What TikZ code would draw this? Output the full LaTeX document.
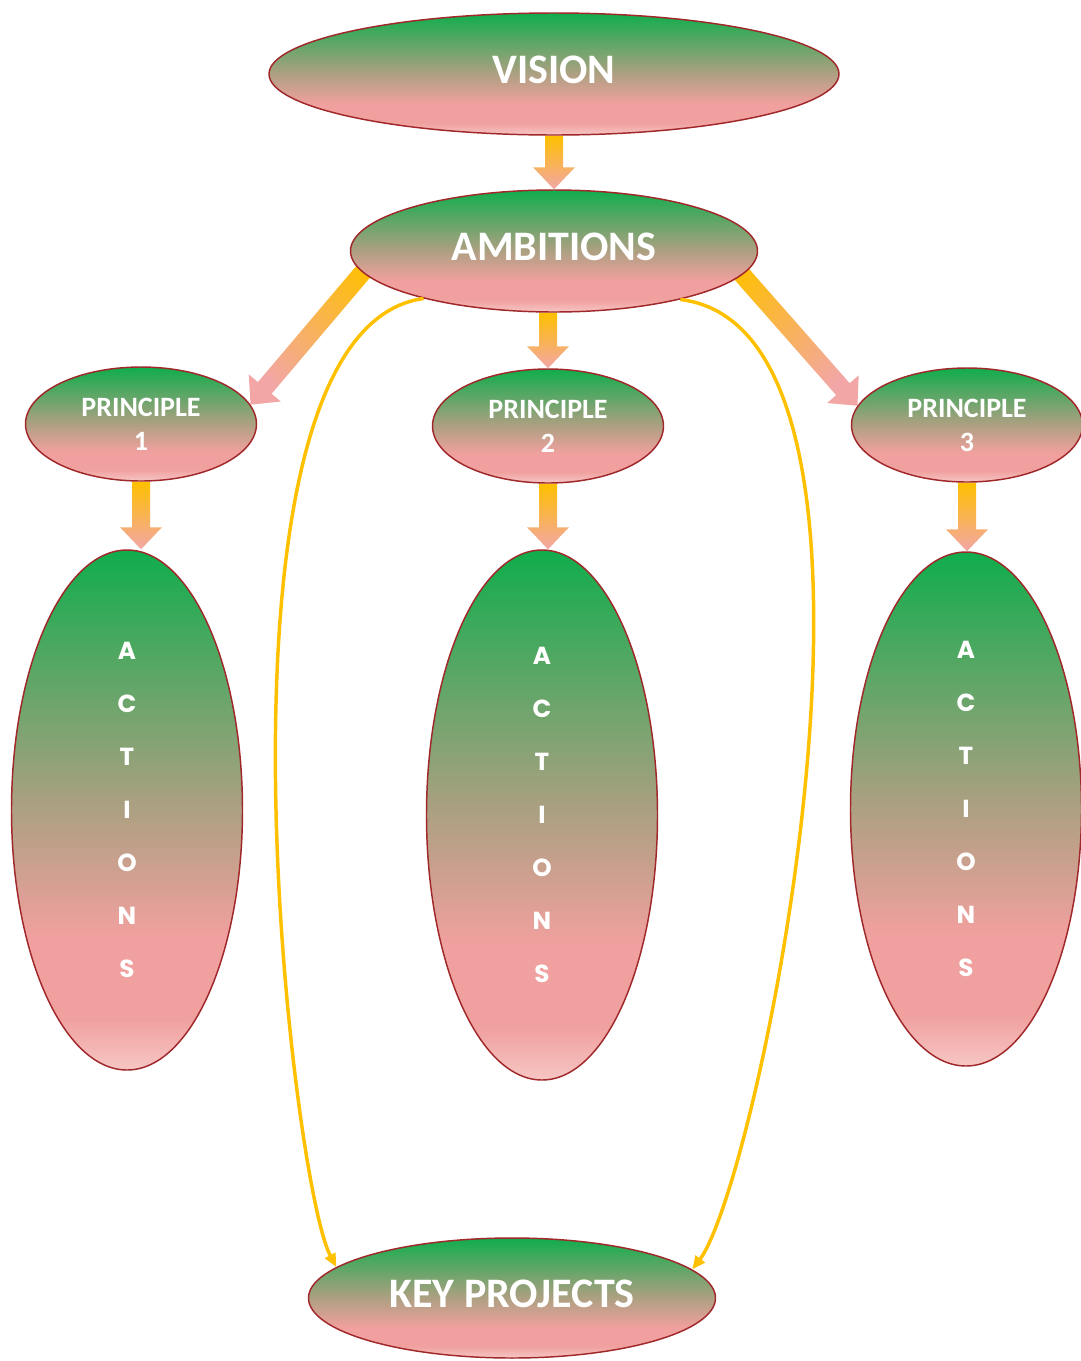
\documentclass[tikz,border=0pt]{standalone}
\usepackage{fontspec}
\setmainfont{Carlito}
\newfontfamily\gothicfont{Poppins}
\usetikzlibrary{shapes.geometric,arrows.meta,calc,backgrounds}

\definecolor{greentop}{RGB}{16,173,76}
\definecolor{midtone}{RGB}{168,160,128}
\definecolor{pinkmd}{RGB}{240,160,158}
\definecolor{pinklt}{RGB}{246,198,196}
\definecolor{rimred}{RGB}{160,40,42}
\definecolor{arrtop}{RGB}{255,192,0}
\definecolor{arrbot}{RGB}{242,166,166}
\definecolor{linkyellow}{RGB}{255,192,0}

\pgfdeclareverticalshading{ovalfill}{100bp}{color(0bp)=(pinklt); color(25bp)=(pinklt); color(30bp)=(pinkmd); color(38bp)=(pinkmd); color(51bp)=(midtone); color(75bp)=(greentop); color(100bp)=(greentop)}

\tikzset{every picture/.style={line width=0.75pt}}
\tikzset{
	oval/.style={ellipse, draw=rimred, line width=1.1pt, shade, shading=ovalfill, inner sep=0pt, text=white},
	bigoval/.style={oval, minimum height=91.5pt, text depth=7pt, font=\fontsize{31.5}{36}\selectfont\bfseries},
	princoval/.style={oval, minimum width=173.25pt, minimum height=85.5pt, align=center, font=\fontsize{21}{25.5}\selectfont\bfseries},
	actoval/.style={oval, minimum width=173.25pt, align=center, font=\gothicfont\fontsize{18.5}{39.75}\selectfont\bfseries},
	linkcurve/.style={draw=linkyellow, line width=2.6pt, -{Triangle[length=10pt,width=8.5pt]}},
}

% block arrow: #1 shading angle, #2 tail, #3 tip
\newcommand\blockarrow[3]{%
	\coordinate (hb) at ($(#3)!16.5pt!(#2)$);
	\path[top color=arrtop, bottom color=arrbot, shading angle=#1]
	($(#2)!6.75pt!90:(#3)$) -- ($(hb)!6.75pt!90:(#3)$) -- ($(hb)!15.75pt!90:(#3)$) -- (#3)
	-- ($(hb)!15.75pt!-90:(#3)$) -- ($(hb)!6.75pt!-90:(#3)$) -- ($(#2)!6.75pt!-90:(#3)$) -- cycle;
}

\begin{document}
\begin{tikzpicture}[x=0.75pt,y=-0.75pt]
	\useasboundingbox (0,0) rectangle (1081,1361);
	
	% Ellipses
	\node[bigoval, minimum width=427.5pt] (vision) at (554,74) {VISION};
	\node[bigoval, minimum width=305.25pt] (ambitions) at (554,251) {AMBITIONS};
	\node[princoval] (p1) at (141,424) {PRINCIPLE\\1};
	\node[princoval] (p2) at (548,426) {PRINCIPLE\\2};
	\node[princoval] (p3) at (967,425) {PRINCIPLE\\3};
	\node[actoval, minimum height=390pt] (a1) at (127,810) {A\\C\\T\\I\\O\\N\\S};
	\node[actoval, minimum height=397.5pt] (a2) at (542,815) {A\\C\\T\\I\\O\\N\\S};
	\node[actoval, minimum height=385.5pt] (a3) at (966,809) {A\\C\\T\\I\\O\\N\\S};
	\node[bigoval, minimum width=305.25pt, minimum height=90pt] (kp) at (512,1298) {KEY PROJECTS};
	
	% Block arrows
	\begin{pgfonlayer}{background}
		\coordinate (ltail) at ($(ambitions.west)+(31,0)$);
		\coordinate (rtail) at ($(ambitions.east)+(-37,0)$);
		\coordinate (mtail) at (p2.north |- ambitions.south);
		\coordinate (a1top) at (p1.south |- a1.north);
		\coordinate (a2top) at (p2.south |- a2.north);
		\coordinate (a3top) at (p3.south |- a3.north);
		\blockarrow{0}{vision.south}{ambitions.north}
		\blockarrow{0}{mtail}{p2.north}
		\blockarrow{-40.8}{ltail}{p1.10}
		\blockarrow{42.5}{rtail}{p3.170}
		\blockarrow{0}{p1.south}{a1top}
		\blockarrow{0}{p2.south}{a2top}
		\blockarrow{0}{p3.south}{a3top}
	\end{pgfonlayer}
	
	% Curved links
	\draw[linkcurve] (ambitions.200) .. controls (193,330) and (290,1180) .. (kp.170);
	\draw[linkcurve] (ambitions.339) .. controls (933,330) and (760,1180) .. (kp.9);
	
\end{tikzpicture}
\end{document}
